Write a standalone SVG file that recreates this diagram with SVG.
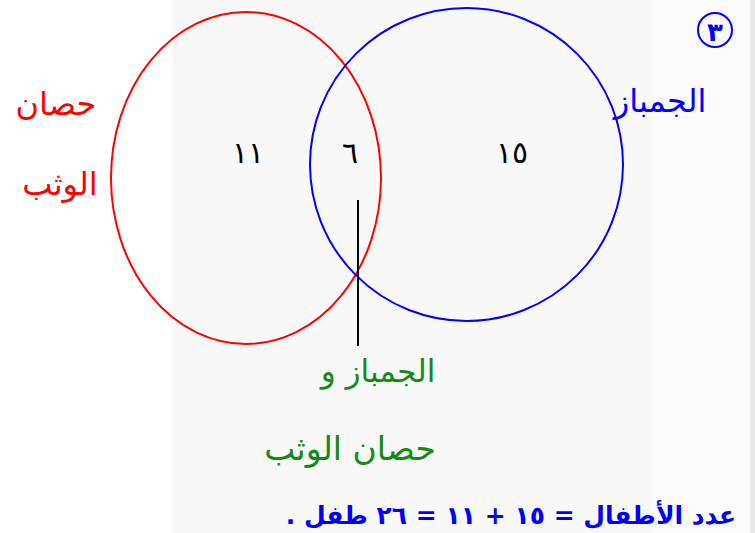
<svg xmlns="http://www.w3.org/2000/svg" width="755" height="533" viewBox="0 0 755 533">
<style>
.ar{font-family:"DejaVu Sans","Noto Sans",sans-serif;font-size:32px;direction:rtl;text-anchor:middle}
.num{fill:#000;font-size:30px}
.red{fill:#ff0000}
.blue{fill:#0000ff}
.green{fill:#138a13}
</style>
<rect x="0" y="0" width="755" height="533" fill="#ffffff"/>
<rect x="172" y="0" width="480" height="533" fill="#f8f8f8"/>
<rect x="652" y="0" width="98" height="533" fill="#fbfbfb"/>
<rect x="750" y="0" width="5" height="533" fill="#e8e8e8"/>
<g id="set-vault">
<ellipse cx="246" cy="178" rx="135" ry="166" fill="none" stroke="#ff0000" stroke-width="2"/>
<text class="ar red" x="56" y="115">حصان</text>
<text class="ar red" x="60" y="195">الوثب</text>
</g>
<g id="set-gym">
<circle cx="466.5" cy="164.5" r="156.5" fill="none" stroke="#0000ff" stroke-width="2"/>
<text class="ar blue" x="660" y="112">الجمباز</text>
</g>
<g id="region-only-vault"><text class="ar num" x="248" y="163">١١</text></g>
<g id="region-only-gym"><text class="ar num" x="512" y="163">١٥</text></g>
<g id="region-both"><text class="ar num" x="350" y="163">٦</text></g>
<g id="connectors">
<line x1="358" y1="200" x2="358" y2="346" stroke="#000" stroke-width="2"/>
</g>
<g id="label-both">
<text class="ar green" x="378" y="382" style="font-size:31px">الجمباز و</text>
<text class="ar green" x="350" y="460" style="font-size:33px">حصان الوثب</text>
</g>
<g id="badge">
<circle cx="715" cy="30" r="17" fill="none" stroke="#0000ff" stroke-width="2"/>
<text class="ar blue" x="715" y="41" style="font-weight:bold;font-size:26px">٣</text>
</g>
<g id="total">
<text class="ar blue" x="511" y="524" style="font-weight:bold;font-size:25px">عدد الأطفال = ١٥ + ١١ = ٢٦ طفل .</text>
</g>
</svg>
